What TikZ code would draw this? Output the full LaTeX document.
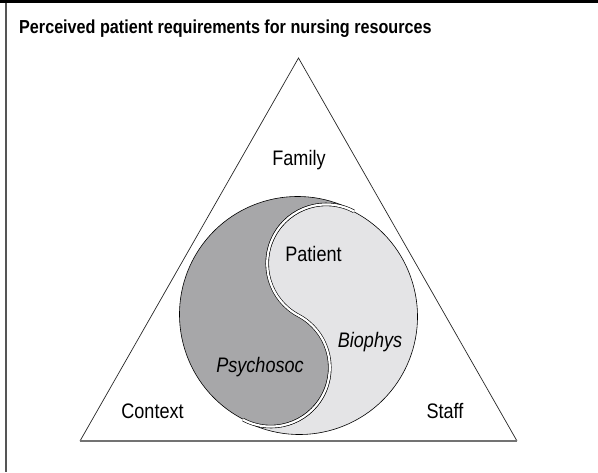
\documentclass[tikz,border=0pt]{standalone}
\usepackage{fontspec}
\setmainfont{Liberation Sans}[FakeStretch=0.86]
\usetikzlibrary{calc}
\definecolor{dk}{HTML}{A7A7A9}
\definecolor{lt}{HTML}{E4E4E6}
\definecolor{frameg}{HTML}{555555}
\tikzset{
  lbl/.style={anchor=base, inner sep=0pt, font=\fontsize{21}{22}\selectfont},
  ilbl/.style={lbl, font=\fontsize{21}{22}\selectfont\itshape},
  piece/.style={draw=black, line width=0.6pt},
}
\begin{document}
\begin{tikzpicture}[x=1pt,y=-1pt]
\useasboundingbox (0,0) rectangle (598,472);
% frame
\fill[black] (0,0) rectangle (598,3);
\draw[frameg, line width=1.6pt] (6,3) -- (6,472);
% title
\node[anchor=base west, inner sep=0pt, font=\fontsize{18.8}{20}\selectfont\bfseries] (title) at (19,33) {Perceived patient requirements for nursing resources};
% triangle
\coordinate (apex) at (298.5,58);
\coordinate (bl) at (80,441);
\coordinate (br) at (517,441);
\draw[line width=0.7pt, black!85] (bl) -- (apex) -- (br);
\draw[line width=1.4pt, black!55] (bl) -- (br);
% yin-yang
\def\R{118}
\def\r{59}
\def\al{-62}
\coordinate (Od) at (297.5,314.5);
\coordinate (Ol) at (299.5,316.5);
\coordinate (Os) at (298.5,315.5);
\path[piece, fill=lt] ($(Ol)+(\al:\R)$)
  arc[start angle=\al, end angle=\al+180, radius=\R]
  arc[start angle=\al+180, end angle=\al, radius=\r]
  arc[start angle=\al+180, end angle=\al+360, radius=\r] -- cycle;
\path[piece, fill=dk] ($(Od)+(\al:\R)$)
  arc[start angle=\al+360, end angle=\al+180, radius=\R]
  arc[start angle=\al+180, end angle=\al, radius=\r]
  arc[start angle=\al+180, end angle=\al+360, radius=\r] -- cycle;
\draw[line width=0.6pt, double=white, double distance=2.2pt] ($(Os)+(\al+180:\R)$)
  arc[start angle=\al+180, end angle=\al, radius=\r]
  arc[start angle=\al+180, end angle=\al+360, radius=\r];
% labels
\node[lbl] (family) at (299,165) {Family};
\node[lbl] (patient) at (313.5,261) {Patient};
\node[ilbl] (bio) at (370,347) {Biophys};
\node[ilbl] (psy) at (260,372) {Psychosoc};
\node[lbl] (context) at (152.5,418) {Context};
\node[lbl] (staff) at (445,418) {Staff};
\end{tikzpicture}
\end{document}
